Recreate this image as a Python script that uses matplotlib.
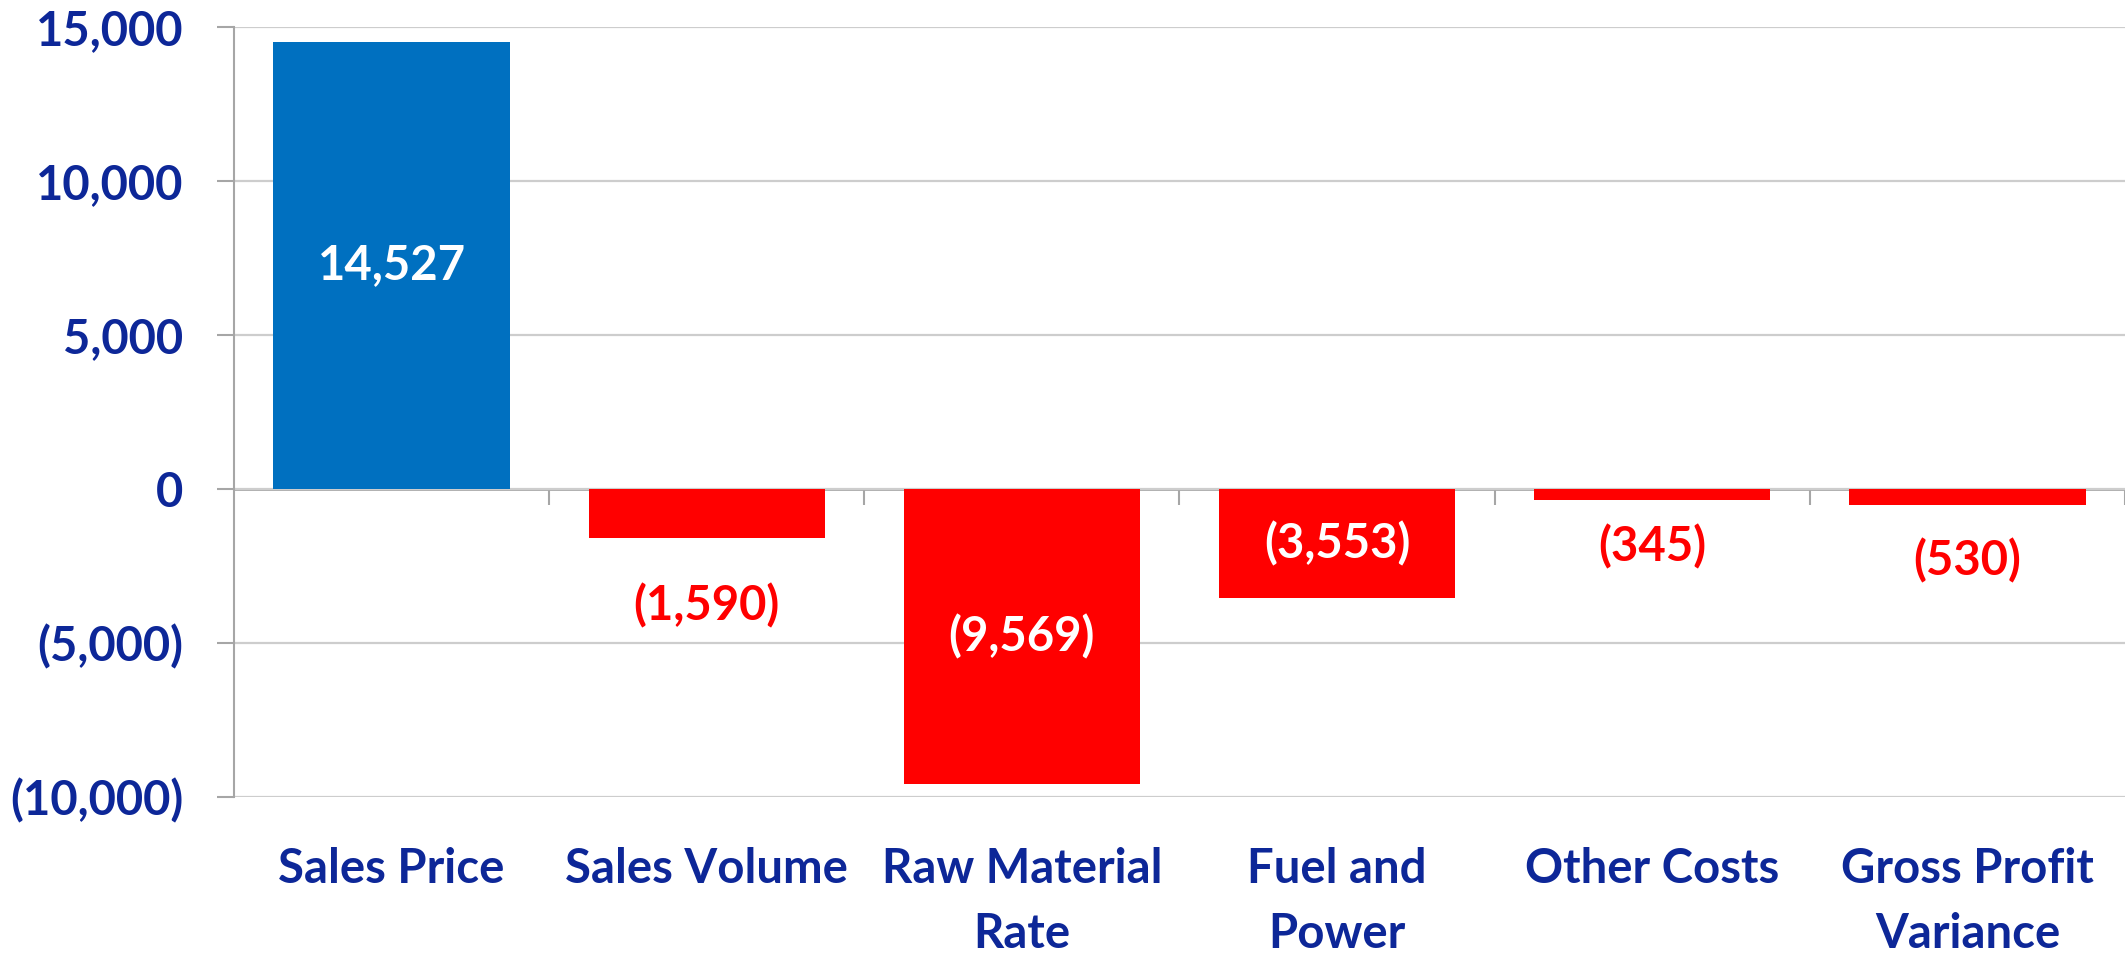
import matplotlib
matplotlib.use("Agg")
import matplotlib.pyplot as plt
from matplotlib.ticker import FuncFormatter

# ---- data ----
categories = ["Sales Price", "Sales Volume", "Raw Material\nRate", "Fuel and\nPower",
              "Other Costs", "Gross Profit\nVariance"]
values = [14527, -1590, -9569, -3553, -345, -530]
y_ticks = [-10000, -5000, 0, 5000, 10000, 15000]

# ---- style ----
BLUE = "#0070C0"
RED = "#FF0000"
TEXT = "#0D2798"
AXIS_GRAY = "#A6A6A6"
GRID_GRAY = "#CDCDCD"
FONT = "Lato"
FS = 34

# label placement: 'in' = centered inside bar (white), number = points below bar end (red)
label_place = ["in", 49, "in", "in", 34, 40]

W, H, DPI = 2125, 959, 100
fig = plt.figure(figsize=(W / DPI, H / DPI), dpi=DPI)
ax = fig.add_axes([234 / W, (H - 797) / H, 1 - 234 / W, (797 - 27) / H])

x = list(range(len(categories)))
colors = [BLUE if v >= 0 else RED for v in values]
ax.bar(x, values, width=0.75, color=colors, zorder=3)

ymin, ymax = y_ticks[0], y_ticks[-1]
ax.set_ylim(ymin, ymax)
ax.set_xlim(-0.5, len(categories) - 0.5)

def fmt(v, pos=None):
    v = int(round(v))
    if v < 0:
        return "({:,})".format(-v)
    return "{:,}".format(v)

ax.set_yticks(y_ticks)
ax.yaxis.set_major_formatter(FuncFormatter(fmt))
ax.tick_params(axis="y", direction="out", length=12.2, width=1.5, color=AXIS_GRAY,
               pad=24.5, labelsize=FS, labelcolor=TEXT)
for lab in ax.get_yticklabels():
    lab.set_fontfamily(FONT)
    lab.set_fontweight("bold")

ax.yaxis.grid(True, color=GRID_GRAY, lw=1.6, zorder=0)
ax.set_axisbelow(True)

ax.set_xticks(x)
ax.set_xticklabels(categories, fontsize=FS, fontweight="bold", color=TEXT,
                   fontfamily=FONT, linespacing=1.58)
ax.tick_params(axis="x", length=0, pad=36)

for s in ["top", "right", "bottom"]:
    ax.spines[s].set_visible(False)
ax.spines["left"].set_color(AXIS_GRAY)
ax.spines["left"].set_linewidth(1.5)

# category axis crossing at zero with boundary ticks
loc0 = (0 - ymin) / (ymax - ymin)
sec = ax.secondary_xaxis(loc0)
sec.set_xticks([i + 0.5 for i in x])
sec.tick_params(axis="x", direction="out", length=11.5, width=1.5, color=AXIS_GRAY,
                labelbottom=False)
sec.spines["bottom"].set_color(AXIS_GRAY)
sec.spines["bottom"].set_linewidth(2)

# value labels
for i, v in enumerate(values):
    place = label_place[i]
    if place == "in":
        ax.text(i, v / 2, fmt(v), ha="center", va="center", color="white",
                fontsize=FS, fontweight="bold", fontfamily=FONT, zorder=4)
    else:
        ax.annotate(fmt(v), xy=(i, v), xytext=(0, -place), textcoords="offset points",
                    ha="center", va="center", color=RED, fontsize=FS,
                    fontweight="bold", fontfamily=FONT, zorder=4)

fig.savefig("out.png", dpi=DPI)
